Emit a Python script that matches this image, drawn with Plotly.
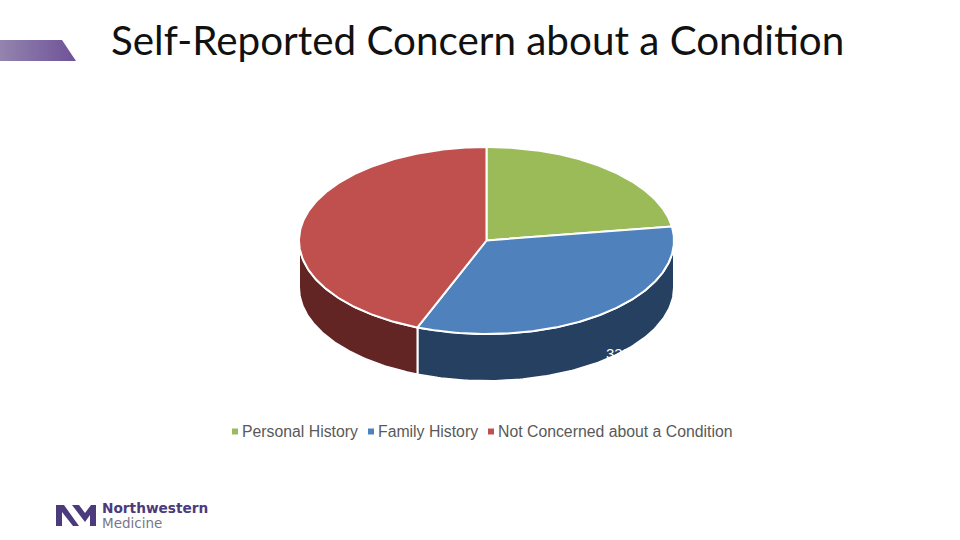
import numpy as np
import plotly.graph_objects as go

title = "Self-Reported Concern about a Condition"
categories = ["Personal History", "Family History", "Not Concerned about a Condition"]
values = [22.6, 33.4, 44.0]
top_colors = ["#9BBB59", "#4F81BD", "#C0504D"]
side_colors = ["#4F6228", "#254061", "#632523"]
visible_label = "33%"

CX, CY, RX, RY, DEPTH = 486.5, 240.5, 187.5, 93.5, 47
LOGO = "#4B3B7C"


def rim(a, dy=0.0):
    a = np.radians(a)
    return CX + RX * np.sin(a), CY - RY * np.cos(a) + dy


fig = go.Figure()
bounds = np.concatenate([[0], np.cumsum(values)]) / sum(values) * 360

# side walls (only the front half, 90..270 degrees clockwise from the top, can be seen)
for i, cat in enumerate(categories):
    a0, a1 = max(bounds[i], 90), min(bounds[i + 1], 270)
    if a1 <= a0:
        continue
    t = np.linspace(a0, a1, 120)
    x1, y1 = rim(t)
    x2, y2 = rim(t[::-1], DEPTH)
    fig.add_trace(go.Scatter(x=np.r_[x1, x2, x1[:1]], y=np.r_[y1, y2, y1[:1]], mode="lines",
                             fill="toself", fillcolor=side_colors[i],
                             line=dict(color="white", width=2), hoverinfo="skip", showlegend=False))

# top face
for i, cat in enumerate(categories):
    t = np.linspace(bounds[i], bounds[i + 1], 200)
    x, y = rim(t)
    fig.add_trace(go.Scatter(x=np.r_[CX, x, CX], y=np.r_[CY, y, CY], mode="lines",
                             fill="toself", fillcolor=top_colors[i],
                             line=dict(color="white", width=2), name=cat, hoverinfo="skip", showlegend=False))

# header band
fig.add_trace(go.Scatter(x=[0, 62, 76, 0, 0], y=[40, 40, 61, 61, 40], mode="lines", fill="toself",
                         fillgradient=dict(type="horizontal",
                                           colorscale=[[0, "#9484AE"], [1, "#6E5298"]]),
                         line=dict(width=0), hoverinfo="skip", showlegend=False))

# legend swatches
leg_x = [235, 371, 491]
fig.add_trace(go.Scatter(x=leg_x, y=[431.5] * 3, mode="markers",
                         marker=dict(symbol="square", size=6, color=top_colors),
                         hoverinfo="skip", showlegend=False))

# logo mark
logo_paths = [
    "M56,505 L64,505 L79,526 L73,526 L62,512 L62,526 L56,526 Z",
    "M72,505 L79,505 L85,513 L91,505 L96,505 L96,526 L90,526 L90,515 L85,522 Z",
]
shapes = [dict(type="path", path=p, fillcolor=LOGO, line=dict(width=0), layer="above") for p in logo_paths]

ann = []
for x, cat in zip([239.5, 375.5, 495.5], categories):
    ann.append(dict(x=x, y=431.5, text=cat, showarrow=False, xanchor="left", yanchor="middle",
                    font=dict(family="Liberation Sans", size=15.8, color="#595959")))
ann.append(dict(x=604, y=353.5, text=visible_label, showarrow=False, xanchor="left", yanchor="middle",
                font=dict(family="Liberation Sans", size=15, color="white")))
ann.append(dict(x=108.5, y=39.5, text=title, showarrow=False, xanchor="left", yanchor="middle",
                font=dict(family="Lato", size=40.4, color="#111111")))
ann.append(dict(x=101, y=507.5, text="<b>Northwestern</b>", showarrow=False, xanchor="left", yanchor="middle",
                borderpad=0, font=dict(family="DejaVu Sans", size=13.7, color=LOGO)))
ann.append(dict(x=101, y=523, text="Medicine", showarrow=False, xanchor="left", yanchor="middle",
                borderpad=0, font=dict(family="DejaVu Sans", size=13.5, color="#77778a")))

fig.update_layout(
    width=960, height=540, margin=dict(l=0, r=0, t=0, b=0),
    paper_bgcolor="white", plot_bgcolor="white", showlegend=False,
    xaxis=dict(range=[0, 960], visible=False, fixedrange=True),
    yaxis=dict(range=[540, 0], visible=False, fixedrange=True),
    shapes=shapes, annotations=ann,
)
fig.write_html("out.html", config={"displayModeBar": False},
               post_script="document.body.style.margin='0';document.documentElement.style.overflow='hidden';")
